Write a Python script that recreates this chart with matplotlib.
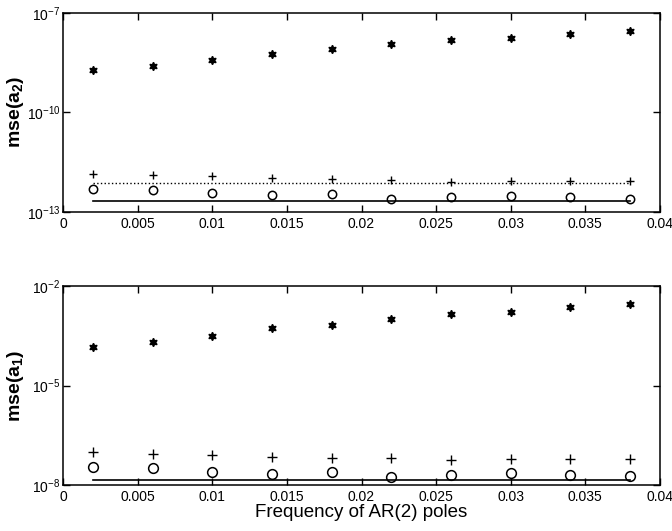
import matplotlib
matplotlib.use('Agg')
import matplotlib.pyplot as plt

plt.rcParams['font.family'] = ['Liberation Sans', 'DejaVu Sans']
plt.rcParams['mathtext.fontset'] = 'custom'
plt.rcParams['mathtext.rm'] = 'Liberation Sans'
plt.rcParams['mathtext.bf'] = 'Liberation Sans:bold'

freq = [0.002, 0.006, 0.01, 0.014, 0.018, 0.022, 0.026, 0.03, 0.034, 0.038]

# mse(a2)
a2_star = [1.87e-9, 2.5e-9, 3.75e-9, 5.9e-9, 8.0e-9, 1.14e-8, 1.46e-8, 1.68e-8, 2.28e-8, 2.73e-8]
a2_plus = [1.4e-12, 1.28e-12, 1.22e-12, 1.08e-12, 9.9e-13, 9.2e-13, 8.2e-13, 8.4e-13, 8.4e-13, 8.8e-13]
a2_circ = [4.84e-13, 4.7e-13, 3.74e-13, 3.19e-13, 3.49e-13, 2.42e-13, 2.84e-13, 3.1e-13, 2.78e-13, 2.47e-13]
a2_dotted = 7.65e-13
a2_solid = 2.1e-13

# mse(a1)
a1_star = [1.47e-4, 2.07e-4, 3.22e-4, 5.5e-4, 6.78e-4, 1.05e-3, 1.46e-3, 1.71e-3, 2.37e-3, 2.92e-3]
a1_plus = [9.66e-8, 8.6e-8, 8.0e-8, 6.97e-8, 6.63e-8, 6.63e-8, 5.65e-8, 5.93e-8, 5.93e-8, 6.19e-8]
a1_circ = [3.47e-8, 3.18e-8, 2.51e-8, 2.14e-8, 2.51e-8, 1.73e-8, 2.03e-8, 2.29e-8, 1.99e-8, 1.82e-8]
a1_solid = 1.41e-8

xticks = [0, 0.005, 0.01, 0.015, 0.02, 0.025, 0.03, 0.035, 0.04]
xticklabels = ['0', '0.005', '0.01', '0.015', '0.02', '0.025', '0.03', '0.035', '0.04']

fig = plt.figure(figsize=(6.72, 5.31), dpi=100)
ax1 = fig.add_axes([0.094, 0.601, 0.888, 0.375])
ax2 = fig.add_axes([0.094, 0.087, 0.888, 0.374])

star = (6, 1, 0)


def style(ax, ylim, yticks):
    ax.set_yscale('log')
    ax.set_xlim(0, 0.04)
    ax.set_ylim(*ylim)
    ax.set_yticks(yticks)
    ax.yaxis.set_minor_locator(matplotlib.ticker.NullLocator())
    ax.set_xticks(xticks)
    ax.set_xticklabels(xticklabels)
    ax.tick_params(direction='in', top=True, right=True, labelsize=10, length=5, width=1)
    ax.tick_params(axis='y', pad=2)
    for s in ax.spines.values():
        s.set_linewidth(1.1)


ax1.plot(freq, a2_star, linestyle='none', marker=star, color='k', markersize=6)
ax1.plot(freq, a2_plus, linestyle='none', marker='+', color='k', markersize=6, markeredgewidth=1)
ax1.plot(freq, a2_circ, linestyle='none', marker='o', mfc='white', mec='k', markersize=6, markeredgewidth=1.1)
ax1.plot([freq[0], freq[-1]], [a2_dotted, a2_dotted], 'k:', linewidth=1)
ax1.plot([freq[0], freq[-1]], [a2_solid, a2_solid], 'k-', linewidth=1.2)
style(ax1, (1e-13, 1e-7), [1e-13, 1e-10, 1e-7])
ax1.set_ylabel(r'$\mathbf{mse(a_2)}$', fontsize=14)
ax1.yaxis.set_label_coords(-0.063, 0.5)

ax2.plot(freq, a1_star, linestyle='none', marker=star, color='k', markersize=6)
ax2.plot(freq, a1_plus, linestyle='none', marker='+', color='k', markersize=7, markeredgewidth=1)
ax2.plot(freq, a1_circ, linestyle='none', marker='o', mfc='white', mec='k', markersize=7, markeredgewidth=1.1)
ax2.plot([freq[0], freq[-1]], [a1_solid, a1_solid], 'k-', linewidth=1.2)
style(ax2, (1e-8, 1e-2), [1e-8, 1e-5, 1e-2])
ax2.set_ylabel(r'$\mathbf{mse(a_1)}$', fontsize=14)
ax2.yaxis.set_label_coords(-0.063, 0.5)
ax2.set_xlabel('Frequency of AR(2) poles', fontsize=13.5, labelpad=0)

fig.savefig('out.png', dpi=100)
